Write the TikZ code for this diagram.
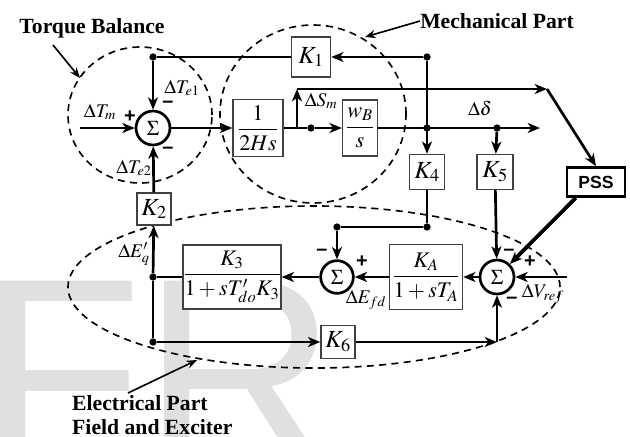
\documentclass[tikz,border=0pt]{standalone}
\usepackage{mathptmx}
\usepackage[no-math]{fontspec}
\setmainfont{Liberation Serif}
\setsansfont{Liberation Sans}
\usetikzlibrary{arrows.meta, calc}
\definecolor{wmgray}{RGB}{224,224,224}

\begin{document}
\begin{tikzpicture}[x=0.3mm, y=-0.3mm,
  sig/.style={line width=2.3pt, -{Stealth[length=10.5pt,width=8.5pt,inset=3pt]}},
  line/.style={line width=2.3pt},
  blk/.style={draw=black!75, line width=1.2pt, fill=white, inner sep=0pt, font=\fontsize{21}{23}\selectfont},
  frac/.style={blk, font=\fontsize{19}{21}\selectfont},
  sum/.style={circle, draw, line width=2.3pt, fill=white, minimum size=10.2mm, inner sep=0pt, font=\fontsize{18}{18}\selectfont},
  dot/.style={circle, fill, inner sep=0pt, minimum size=2.2mm},
  lbl/.style={font=\fontsize{16.5}{16.5}\selectfont, inner sep=0pt},
  sgn/.style={font=\sffamily\bfseries\fontsize{17}{17}\selectfont, inner sep=0pt},
  title/.style={font=\bfseries\fontsize{18.5}{21}\selectfont, align=left, inner sep=0pt},
  zone/.style={line width=1.4pt, dash pattern=on 6pt off 4.5pt},
  note/.style={line width=1.4pt, -{Stealth[length=9pt,width=7pt]}}]
  \useasboundingbox (0,0) rectangle (630,436);
  % watermark behind the diagram
  \begin{scope}
    \clip (0,0) rectangle (630,436);
    \node[anchor=base west, inner sep=0pt, text=wmgray, font=\sffamily\fontsize{230}{230}\selectfont] (wm) at (-22,466) {FR};
  \end{scope}

  % dashed regions
  \draw[zone] (140,115) ellipse [x radius=21.6mm, y radius=20.4mm];
  \draw[zone] (313,114) ellipse [x radius=27.9mm, y radius=26.7mm];
  \draw[zone] (314,287) ellipse [x radius=73.8mm, y radius=24.3mm];

  % blocks
  \node[sum] (sumA) at (153,128) {$\Sigma$};
  \node[frac, minimum width=15mm, minimum height=17.1mm] (hs) at (258,128) {$\displaystyle\frac{1}{2Hs}$};
  \node[frac, minimum width=10.5mm, minimum height=16.8mm] (wb) at (360,128) {$\displaystyle\frac{w_B}{s}$};
  \node[blk, minimum width=11.7mm, minimum height=12mm] (kone) at (311,57) {$K_1$};
  \node[blk, minimum width=10.2mm, minimum height=9.6mm] (ktwo) at (154,209) {$K_2$};
  \node[blk, minimum width=10.5mm, minimum height=10.5mm] (kfour) at (427,172) {$K_4$};
  \node[blk, minimum width=10.8mm, minimum height=10.5mm] (kfive) at (495,172) {$K_5$};
  \node[draw, line width=2.2pt, inner sep=0pt, minimum width=17.4mm, minimum height=8.7mm,
        font=\sffamily\bfseries\fontsize{15}{15}\selectfont] (pss) at (596,182) {PSS};
  \node[sum] (sumC) at (497,277) {$\Sigma$};
  \node[frac, minimum width=21.9mm, minimum height=19.5mm] (ka) at (426,277) {$\displaystyle\frac{K_A}{1+sT_A}$};
  \node[sum, minimum size=9.8mm] (sumB) at (337,277) {$\Sigma$};
  \node[frac, minimum width=29.1mm, minimum height=19.2mm] (kthree) at (232,277) {$\displaystyle\frac{K_3}{1+sT'_{do}K_3}$};
  \node[blk, minimum width=10.2mm, minimum height=9.9mm] (ksix) at (338,342) {$K_6$};

  % branch points
  \coordinate (tmin) at (80,128);
  \coordinate (br) at (297,128);
  \coordinate (brt) at (297,89);
  \coordinate (pssin) at (547,89);
  \coordinate (dout) at (540,128);
  \coordinate (vref) at (567,277);
  \coordinate (k6c) at (497,342);
  \node[dot] (dsm) at (311,128) {};
  \node[dot] (dk1) at (427,57) {};
  \node[dot] (dk4) at (427,128) {};
  \node[dot] (dk5) at (497,128) {};
  \node[dot] (dte) at (153,57) {};
  \node[dot] (dfb) at (427,227) {};
  \node[dot] (dsb) at (337,227) {};
  \node[dot] (deq) at (153,277) {};
  \node[dot] (dk6) at (153,342) {};

  % mechanical loop
  \draw[sig] (tmin) -- (sumA);
  \draw[sig] (sumA) -- (hs);
  \draw[line] (hs.east) -- (dsm);
  \draw[sig] (dsm) -- (wb);
  \draw[sig] (br) -- (brt);
  \draw[sig] (brt) -- (pssin);
  \draw[sig] (pssin) -- (pss.north);
  \draw[sig] (wb) -- (dout);
  \draw[sig] (dk1) -- (kone);
  \draw[sig] (dk1) -- (kfour);
  \draw[sig] (dk5) -- (kfive);
  \draw[line] (kone) -- (dte);
  \draw[sig] (dte) -- (sumA);
  \draw[sig] (ktwo) -- (sumA);

  % electrical loop
  \draw[line] (kfour) -- (dfb) -- (dsb);
  \draw[sig] (dsb) -- (sumB);
  \draw[sig] (kfive) -- (sumC);
  \draw[sig, line width=3.2pt] (pss.218) -- (sumC);
  \draw[sig] (vref) -- (sumC);
  \draw[sig] (sumC) -- (ka);
  \draw[sig] (ka) -- (sumB);
  \draw[sig] (sumB) -- (kthree);
  \draw[line] (kthree) -- (deq);
  \draw[sig] (deq) -- (ktwo);
  \draw[line] (deq) -- (dk6);
  \draw[sig] (dk6) -- (ksix);
  \draw[sig] (ksix) -- (k6c);
  \draw[sig] (k6c) -- (sumC);

  % signal labels
  \node[lbl] (ltm) at (100,112) {$\Delta T_m$};
  \node[lbl] (lte1) at (182,88) {$\Delta T_{e1}$};
  \node[lbl] (lte2) at (134,168) {$\Delta T_{e2}$};
  \node[lbl] (lsm) at (321,101) {$\Delta S_m$};
  \node[lbl] (ldel) at (480,108) {$\Delta\delta$};
  \node[lbl] (leq) at (134,254) {$\Delta E'_q$};
  \node[lbl] (lefd) at (366,300) {$\Delta E_{fd}$};
  \node[lbl] (lvref) at (543,294) {$\Delta V_{ref}$};
  \node[sgn] (pa) at (130,117) {+};
  \node[sgn] (ma1) at (168,104) {–};
  \node[sgn] (ma2) at (168,150) {–};
  \node[sgn] (mb) at (322,252) {–};
  \node[sgn] (pb) at (362,262) {+};
  \node[sgn] (mc1) at (509,252) {–};
  \node[sgn] (pc) at (530,262) {+};
  \node[sgn] (mc2) at (512,300) {–};

  % region titles
  \node[title] (ttorque) at (92,28) {Torque Balance};
  \coordinate (tfrom) at (53,45);
  \coordinate (ttip) at (80,78);
  \draw[note] (tfrom) -- (ttip);
  \node[title] (tmech) at (497,21) {Mechanical Part};
  \coordinate (mtip) at (365,37);
  \draw[note] (tmech.west) -- (mtip);
  \node[title, anchor=west] (telec) at (72,415) {Electrical Part\\Field and Exciter};
  \coordinate (efrom) at (128,393);
  \coordinate (etip) at (197,360);
  \draw[note] (efrom) -- (etip);
\end{tikzpicture}
\end{document}
